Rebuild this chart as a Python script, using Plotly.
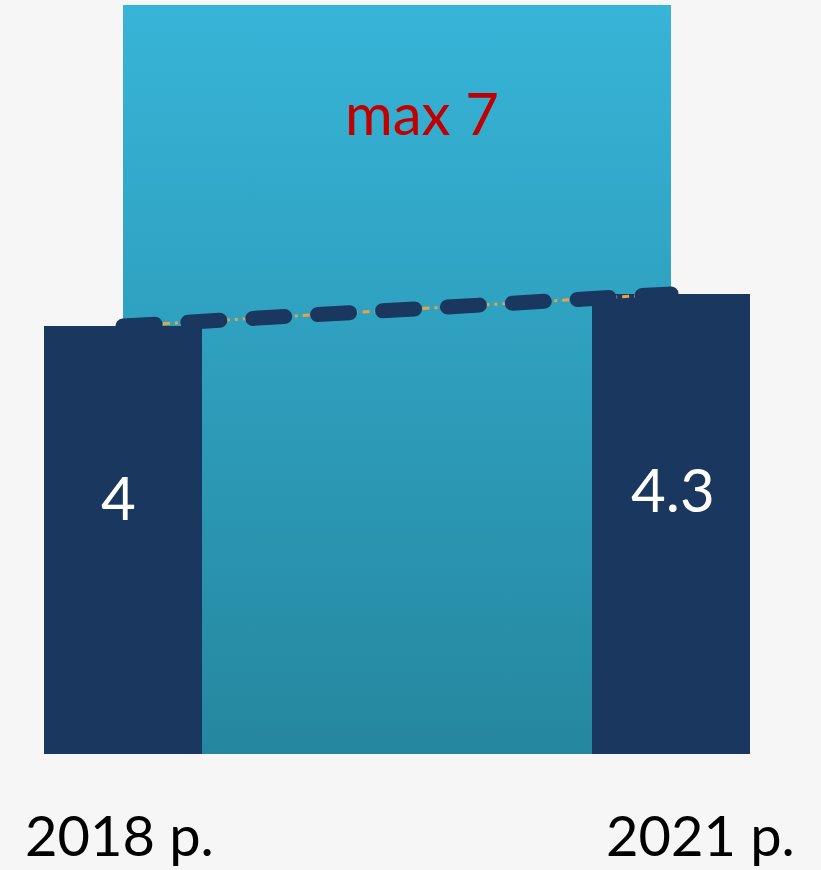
import plotly.graph_objects as go

# Data
years = ["2018 р.", "2021 р."]
x_pos = [0, 1]
values = [4, 4.3]
value_labels = ["4", "4.3"]
max_value = 7
max_label = "max 7"

BG = "#f6f6f6"
NAVY = "#19375f"
TEAL_TOP = "#37b4d8"
TEAL_BOT = "#25879f"
RED = "#c00000"
ORANGE = "#f0a040"
FONT = "Lato"

fig = go.Figure()

# Gradient "max" band (base subplot)
fig.add_trace(go.Scatter(
    x=x_pos, y=[max_value, max_value], mode="lines",
    line=dict(width=0), fill="tozeroy",
    fillgradient=dict(type="vertical",
                      colorscale=[[0, TEAL_BOT], [1, TEAL_TOP]]),
    hoverinfo="skip", showlegend=False, xaxis="x", yaxis="y"))

# Bars on overlay subplot (drawn above the gradient)
fig.add_trace(go.Bar(
    x=x_pos, y=values, width=0.2883, marker=dict(color=NAVY, line=dict(width=0)),
    showlegend=False, xaxis="x2", yaxis="y2"))

# Connecting line: orange thin dash-dot under navy thick dashes
fig.add_trace(go.Scatter(
    x=x_pos, y=values, mode="lines",
    line=dict(color=ORANGE, width=3, dash="7px,5px,3px,5px"),
    showlegend=False, xaxis="x2", yaxis="y2"))
fig.add_trace(go.Scatter(
    x=x_pos, y=values, mode="lines",
    line=dict(color=NAVY, width=15, dash="32px,33px"),
    showlegend=False, xaxis="x2", yaxis="y2"))

xr = [-123 / 548, (821 - 123) / 548]
axis_common = dict(visible=False, showgrid=False, zeroline=False, fixedrange=True)
fig.update_layout(
    width=821, height=870,
    margin=dict(l=0, r=0, t=5, b=116),
    paper_bgcolor=BG, plot_bgcolor=BG,
    xaxis=dict(range=xr, **axis_common),
    yaxis=dict(range=[0, max_value], **axis_common),
    xaxis2=dict(range=xr, overlaying="x", **axis_common),
    yaxis2=dict(range=[0, max_value], overlaying="y", **axis_common),
    bargap=0,
    hovermode=False,
)

annotations = []
# value labels
label_y = [2.40, 2.48]
label_shift = [-5, 2]
for xp, lab, ly, xs in zip(x_pos, value_labels, label_y, label_shift):
    annotations.append(dict(x=xp, y=ly, xref="x2", yref="y2", text=lab, showarrow=False,
                            xshift=xs, font=dict(family=FONT, size=60, color="white"),
                            xanchor="center", yanchor="middle"))
# max label
annotations.append(dict(x=0.5, y=6.0, xref="x", yref="y", text=max_label, showarrow=False,
                        xshift=25, font=dict(family=FONT, size=58, color=RED),
                        xanchor="center", yanchor="middle"))
# year labels
year_shift = [-4, 29]
for xp, yr, xs in zip(x_pos, years, year_shift):
    annotations.append(dict(x=xp, y=-0.107, xref="x", yref="paper", text=yr, showarrow=False,
                            xshift=xs, font=dict(family=FONT, size=56, color="black"),
                            xanchor="center", yanchor="middle"))
fig.update_layout(annotations=annotations)

post = """
document.body.style.margin='0';
document.body.style.background='#f6f6f6';
document.documentElement.style.overflow='hidden';
document.querySelectorAll('.scatterlayer path.js-line').forEach(function(p){
  if (parseFloat(p.style.strokeWidth) >= 10) { p.style.strokeLinecap='round'; }
});
"""
fig.write_html("out.html", post_script=post, config={"displayModeBar": False})
